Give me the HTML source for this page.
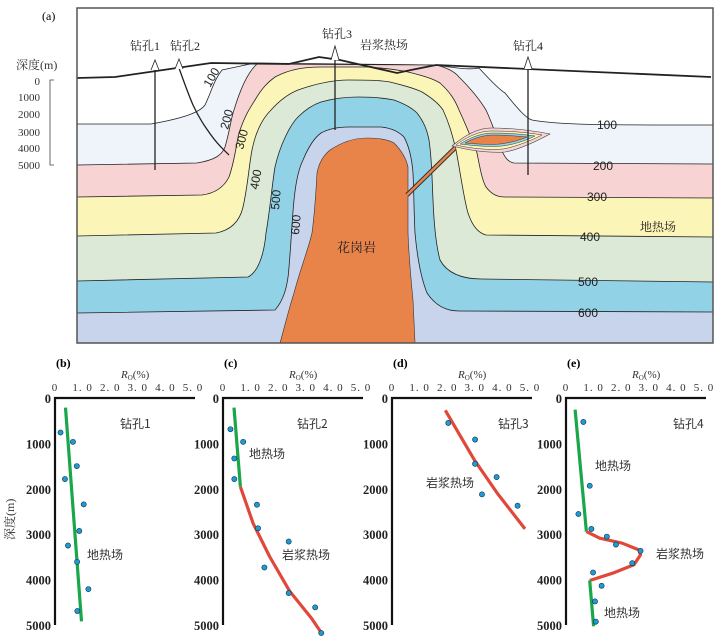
<!DOCTYPE html>
<html><head><meta charset="utf-8">
<style>
html,body{margin:0;padding:0;background:#fff;}
svg{display:block;font-family:"Liberation Serif","Noto Serif CJK SC","Noto Sans CJK SC",serif;}
</style></head>
<body>
<svg id="fig" width="716" height="640" viewBox="0 0 716 640" xmlns="http://www.w3.org/2000/svg">
<g id="panel-a">
 <text x="42" y="20" font-size="12">(a)</text>
 <rect x="77" y="8" width="636" height="335" fill="#fff"/>
 <!-- 100-200 band -->
 <path fill="#eef4fa" stroke="#222" stroke-width="0.8" d="M77,124 L151,124 C185,118 200,112 205,105 C212,90 214,80 222,70 L255,63 L436,65 C455,68 470,70 479,68 C490,80 500,90 505,93 C515,105 525,118 532,120 C560,125 596,125 713,125 L713,343 L77,343 Z"/>
 <path fill="#f7d3d3" stroke="#222" stroke-width="0.8" d="M77,165 L197,163 C215,160 222,155 225,147 C230,130 231,118 234,110 C240,90 248,72 257,64 L436,65 C448,68 455,72 459,77 C470,88 480,100 486,110 C493,125 497,138 500,147 C505,158 508,162 514,163 L713,164 L713,343 L77,343 Z"/>
 <path fill="#fcf5b8" stroke="#222" stroke-width="0.8" d="M77,197 L202,195 C218,193 225,185 229,177 C235,160 236,145 239,133 C245,115 250,108 255,100 C262,88 268,82 275,77 C290,69 305,67 321,67 L367,67 C385,68 398,70 408,72 C420,75 432,78 440,83 C450,92 455,100 459,110 C466,125 472,140 477,153 C480,168 482,180 486,187 C492,195 498,197 505,197 L713,198 L713,343 L77,343 Z"/>
 <path fill="#dbe9d6" stroke="#222" stroke-width="0.8" d="M77,236 L216,233 C232,230 240,220 243,207 C248,185 249,165 252,150 C256,130 263,118 271,110 C280,100 288,94 298,90 C315,84 332,80 349,80 C365,80 378,80 390,82 C402,85 414,88 422,92 C432,98 439,104 443,110 C450,125 453,138 456,150 C460,170 464,200 468,213 C472,225 478,233 486,235 L713,237 L713,343 L77,343 Z"/>
 <path fill="#92d2e6" stroke="#222" stroke-width="0.8" d="M77,281 L248,277 C258,272 264,255 266,233 C270,210 272,185 275,167 C280,145 290,125 298,117 C305,110 312,105 321,102 C335,98 346,97 358,97 C372,97 384,98 394,100 C405,104 412,108 417,113 C424,122 427,130 429,140 C432,160 432,180 433,200 C434,225 436,245 440,260 C447,273 462,279 482,279 L713,282 L713,343 L77,343 Z"/>
 <path fill="#c8d4ec" stroke="#222" stroke-width="0.8" d="M77,313 L275,310 C284,300 288,285 289,267 C291,245 292,220 294,200 C296,180 299,168 303,160 C308,148 314,138 321,133 C330,128 340,127 349,127 L381,127 C392,128 399,132 404,137 C410,148 412,160 413,173 C414,195 414,215 415,233 C417,255 421,278 427,293 C435,305 445,311 459,311 L713,312 L713,343 L77,343 Z"/>
 <path fill="#e8844a" stroke="#333" stroke-width="0.6" d="M280,343 C285,325 290,305 294,293 C300,270 308,250 312,233 C315,210 316,190 317,173 C319,162 324,155 330,150 C342,142 355,138 367,138 C380,138 389,140 394,143 C401,150 406,158 408,167 C408,190 408,210 408,233 C409,260 411,280 413,300 L415,343 Z"/>
 <!-- dike and sill -->
 <path d="M407,195 L455,148" stroke="#333" stroke-width="4.5" fill="none"/>
 <path d="M407,195 L455,148" stroke="#e8844a" stroke-width="2.5" fill="none"/>
 <path fill="#f7d3d3" stroke="#333" stroke-width="0.6" d="M452,146 C465,135 478,128 491,128 C510,128 530,130 550,134 C535,142 518,150 505,152 C490,153 472,151 452,146 Z"/>
 <path fill="#fcf5b8" stroke="#333" stroke-width="0.5" d="M456,145 C468,136 480,131 492,131 C508,131 525,132 542,135 C530,141 515,147 503,149 C490,150 473,149 456,145 Z"/>
 <path fill="#92d2e6" stroke="#333" stroke-width="0.5" d="M460,144 C471,137 482,133 493,133 C507,133 521,134 535,136 C525,141 512,145 502,146 C490,147 475,146 460,144 Z"/>
 <path fill="#e8844a" stroke="#333" stroke-width="0.5" d="M465,143 C474,138 484,135 494,135 C505,135 516,136 527,137 C518,141 508,143 500,144 C490,145 477,144 465,143 Z"/>
 <!-- surface -->
 <path d="M77,78 L115,77 L211,63 L289,64 L319,57 L340,60 L397,73 L411,70 L436,65 L550,70 L711,77" fill="none" stroke="#222" stroke-width="1.8"/>
 <rect x="77" y="8" width="636" height="335" fill="none" stroke="#555" stroke-width="1.5"/>
 <!-- wells -->
 <g><path d="M155,70 L155,170" stroke="#222" stroke-width="1.3"/><path d="M151,70 L155,60 L159,70" fill="#fff" stroke="#222" stroke-width="0.8"/></g>
 <g><path d="M179,68 C185,85 190,98 193,105 C200,120 206,128 211,135 C218,145 224,150 229,155" fill="none" stroke="#222" stroke-width="1.3"/><path d="M175,69 L179,59 L183,69" fill="#fff" stroke="#222" stroke-width="0.8"/></g>
 <g><path d="M335,58 L335,130" stroke="#222" stroke-width="1.3"/><path d="M331,60 L335,46 L339,60" fill="#fff" stroke="#222" stroke-width="0.8"/></g>
 <g><path d="M528,69 L528,175" stroke="#222" stroke-width="1.3"/><path d="M524,69 L528,57 L532,69" fill="#fff" stroke="#222" stroke-width="0.8"/></g>
 <g font-size="12" fill="#222">
  <text x="130" y="50">钻孔1</text>
  <text x="170" y="50">钻孔2</text>
  <text x="322" y="38">钻孔3</text>
  <text x="360" y="49">岩浆热场</text>
  <text x="513" y="50">钻孔4</text>
  <text x="640" y="231">地热场</text>
  <text x="337" y="252" font-size="13">花岗岩</text>
 </g>
 <g font-size="12" fill="#222" font-family="Liberation Sans, sans-serif">
  <text transform="translate(210,88) rotate(-60)">100</text>
  <text transform="translate(228,130) rotate(-75)">200</text>
  <text transform="translate(243,150) rotate(-75)">300</text>
  <text transform="translate(258,190) rotate(-80)">400</text>
  <text transform="translate(279,210) rotate(-85)">500</text>
  <text transform="translate(299,235) rotate(-85)">600</text>
  <text x="597" y="129">100</text>
  <text x="593" y="170">200</text>
  <text x="587" y="201">300</text>
  <text x="580" y="241">400</text>
  <text x="578" y="286">500</text>
  <text x="578" y="317">600</text>
 </g>
 <g font-size="11" fill="#333">
  <text x="16" y="69" font-size="12">深度(m)</text>
  <path d="M54,80 L50,80 L50,165 L54,165" fill="none" stroke="#444" stroke-width="0.8"/>
  <text x="40" y="85" text-anchor="end">0</text>
  <text x="40" y="101" text-anchor="end">1000</text>
  <text x="40" y="118" text-anchor="end">2000</text>
  <text x="40" y="136" text-anchor="end">3000</text>
  <text x="40" y="152" text-anchor="end">4000</text>
  <text x="40" y="169" text-anchor="end">5000</text>
 </g>
</g>
<g id="charts"></g>
</svg>
<script>
// Ro (%) vs depth (m) data for wells
const roTicks = [0, 1.0, 2.0, 3.0, 4.0, 5.0];
const depthTicks = [0, 1000, 2000, 3000, 4000, 5000];
const b_ro = [0.2, 0.65, 0.79, 0.36, 1.04, 0.88, 0.47, 0.8, 1.21, 0.81];
const b_depth = [760, 966, 1500, 1786, 2343, 2928, 3250, 3609, 4209, 4692];
const b_green_ro = [0.38, 0.96];
const b_green_depth = [212, 4920];
const c_ro = [0.27, 0.73, 0.41, 0.41, 1.23, 1.27, 2.38, 1.5, 2.38, 3.34, 3.56];
const c_depth = [688, 966, 1332, 1786, 2350, 2870, 3162, 3733, 4297, 4612, 5176];
const c_green_ro = [0.4, 0.63];
const c_green_depth = [212, 1955];
const c_red_ro = [0.63, 1.09, 1.69, 2.42, 3.2, 3.57];
const c_red_depth = [1955, 2760, 3492, 4260, 4846, 5176];
const d_ro = [2.04, 3.01, 3.01, 3.79, 3.26, 4.55];
const d_depth = [549, 915, 1450, 1742, 2123, 2372];
const d_red_ro = [1.93, 2.99, 3.82, 4.82];
const d_red_depth = [271, 1369, 2101, 2884];
const e_ro = [0.63, 0.86, 0.45, 0.92, 1.48, 1.81, 2.7, 2.4, 0.98, 1.29, 1.05, 1.08];
const e_depth = [527, 1933, 2555, 2884, 3053, 3228, 3367, 3638, 3843, 4136, 4480, 4927];
const e_green1_ro = [0.33, 0.74];
const e_green1_depth = [256, 2943];
const e_red_ro = [0.74, 1.22, 2.04, 2.64, 2.7, 2.46, 1.69, 0.86];
const e_red_depth = [2943, 3089, 3199, 3345, 3455, 3675, 3858, 4019];
const e_green2_ro = [0.86, 1.0];
const e_green2_depth = [4019, 5029];

const NS = "http://www.w3.org/2000/svg";
const root = document.getElementById('charts');
const Y0 = 398, Y1 = 625, W = 138;
function mk(tag, attrs, parent, text){
  const el = document.createElementNS(NS, tag);
  for (const k in attrs) el.setAttribute(k, attrs[k]);
  if (text !== undefined) el.textContent = text;
  parent.appendChild(el);
  return el;
}
function panel(key, ox, letter, series, points, labels){
  const g = mk('g', {}, root);
  
  
  const xs = v => ox + v / 5 * W;
  const ys = v => Y0 + v / 5000 * (Y1 - Y0);
  const lt = mk('text', {x: ox + 1, y: 367, 'font-size': 12, 'font-weight': 'bold'}, g, '(' + letter + ')');
  
  
  const xt = mk('text', {x: ox + 66, y: 378, 'font-size': 11, 'fill': '#333'}, g);
  
  
  mk('tspan', {'font-style': 'italic'}, xt, 'R');
  mk('tspan', {'font-size': 7, dy: 2}, xt, 'O');
  mk('tspan', {dy: -2}, xt, '(%)');
  const ax = mk('path', {d: `M${ox},${Y1} L${ox},${Y0} L${ox + W + 2},${Y0}`, fill: 'none', stroke: '#111', 'stroke-width': 2.2}, g);
  
  
  roTicks.forEach(v => {
    const t = mk('text', {x: xs(v), y: 391, 'font-size': 11, 'text-anchor': 'middle', fill: '#333', 'letter-spacing': '1'}, g, v === 0 ? '0' : v.toFixed(1).replace('.', '. '));
    
    
  });
  depthTicks.forEach(v => {
    const t = mk('text', {x: ox - 4, y: ys(v) + 5, 'font-size': 12.5, 'font-weight': 'bold', 'text-anchor': 'end', fill: '#222'}, g, String(v));
    
    
  });
  series.forEach(s => {
    const d = s.ro.map((v, i) => (i ? 'L' : 'M') + xs(v).toFixed(1) + ',' + ys(s.depth[i]).toFixed(1)).join(' ');
    const p = mk('path', {d: d, fill: 'none', stroke: s.color, 'stroke-width': 3.2, 'stroke-linejoin': 'round', 'stroke-linecap': 'butt'}, g);
    
    
  });
  points.ro.forEach((v, i) => {
    const c = mk('circle', {cx: xs(v), cy: ys(points.depth[i]), r: 2.6, fill: '#1e9ad6', stroke: '#134', 'stroke-width': 0.6}, g);
    
    
  });
  labels.forEach(l => {
    const t = mk('text', {x: l[0], y: l[1], 'font-size': 12, fill: '#333', 'font-family': '"Noto Sans CJK SC", sans-serif'}, g, l[2]);
    
    
  });
}
const GREEN = '#1aa64a', RED = '#e0483a';
panel('b', 55, 'b', [{ro: b_green_ro, depth: b_green_depth, color: GREEN, name: 'geothermal-trend'}], {ro: b_ro, depth: b_depth},
  [[120, 428, '钻孔1', 'well-label'], [87, 559, '地热场', 'field-label']]);
panel('c', 223, 'c', [{ro: c_green_ro, depth: c_green_depth, color: GREEN, name: 'geothermal-trend'}, {ro: c_red_ro, depth: c_red_depth, color: RED, name: 'magmatic-trend'}], {ro: c_ro, depth: c_depth},
  [[297, 428, '钻孔2', 'well-label'], [249, 458, '地热场', 'field-label'], [282, 559, '岩浆热场', 'field-label']]);
panel('d', 392, 'd', [{ro: d_red_ro, depth: d_red_depth, color: RED, name: 'magmatic-trend'}], {ro: d_ro, depth: d_depth},
  [[498, 428, '钻孔3', 'well-label'], [426, 487, '岩浆热场', 'field-label']]);
panel('e', 566, 'e', [{ro: e_green1_ro, depth: e_green1_depth, color: GREEN, name: 'geothermal-trend-upper'}, {ro: e_red_ro, depth: e_red_depth, color: RED, name: 'magmatic-trend'}, {ro: e_green2_ro, depth: e_green2_depth, color: GREEN, name: 'geothermal-trend-lower'}], {ro: e_ro, depth: e_depth},
  [[673, 428, '钻孔4', 'well-label'], [595, 470, '地热场', 'field-label'], [656, 558, '岩浆热场', 'field-label'], [604, 617, '地热场', 'field-label']]);
const yt = mk('text', {transform: 'translate(14,540) rotate(-90)', 'font-size': 12, fill: '#333'}, root, '深度(m)');


</script>
</body></html>
